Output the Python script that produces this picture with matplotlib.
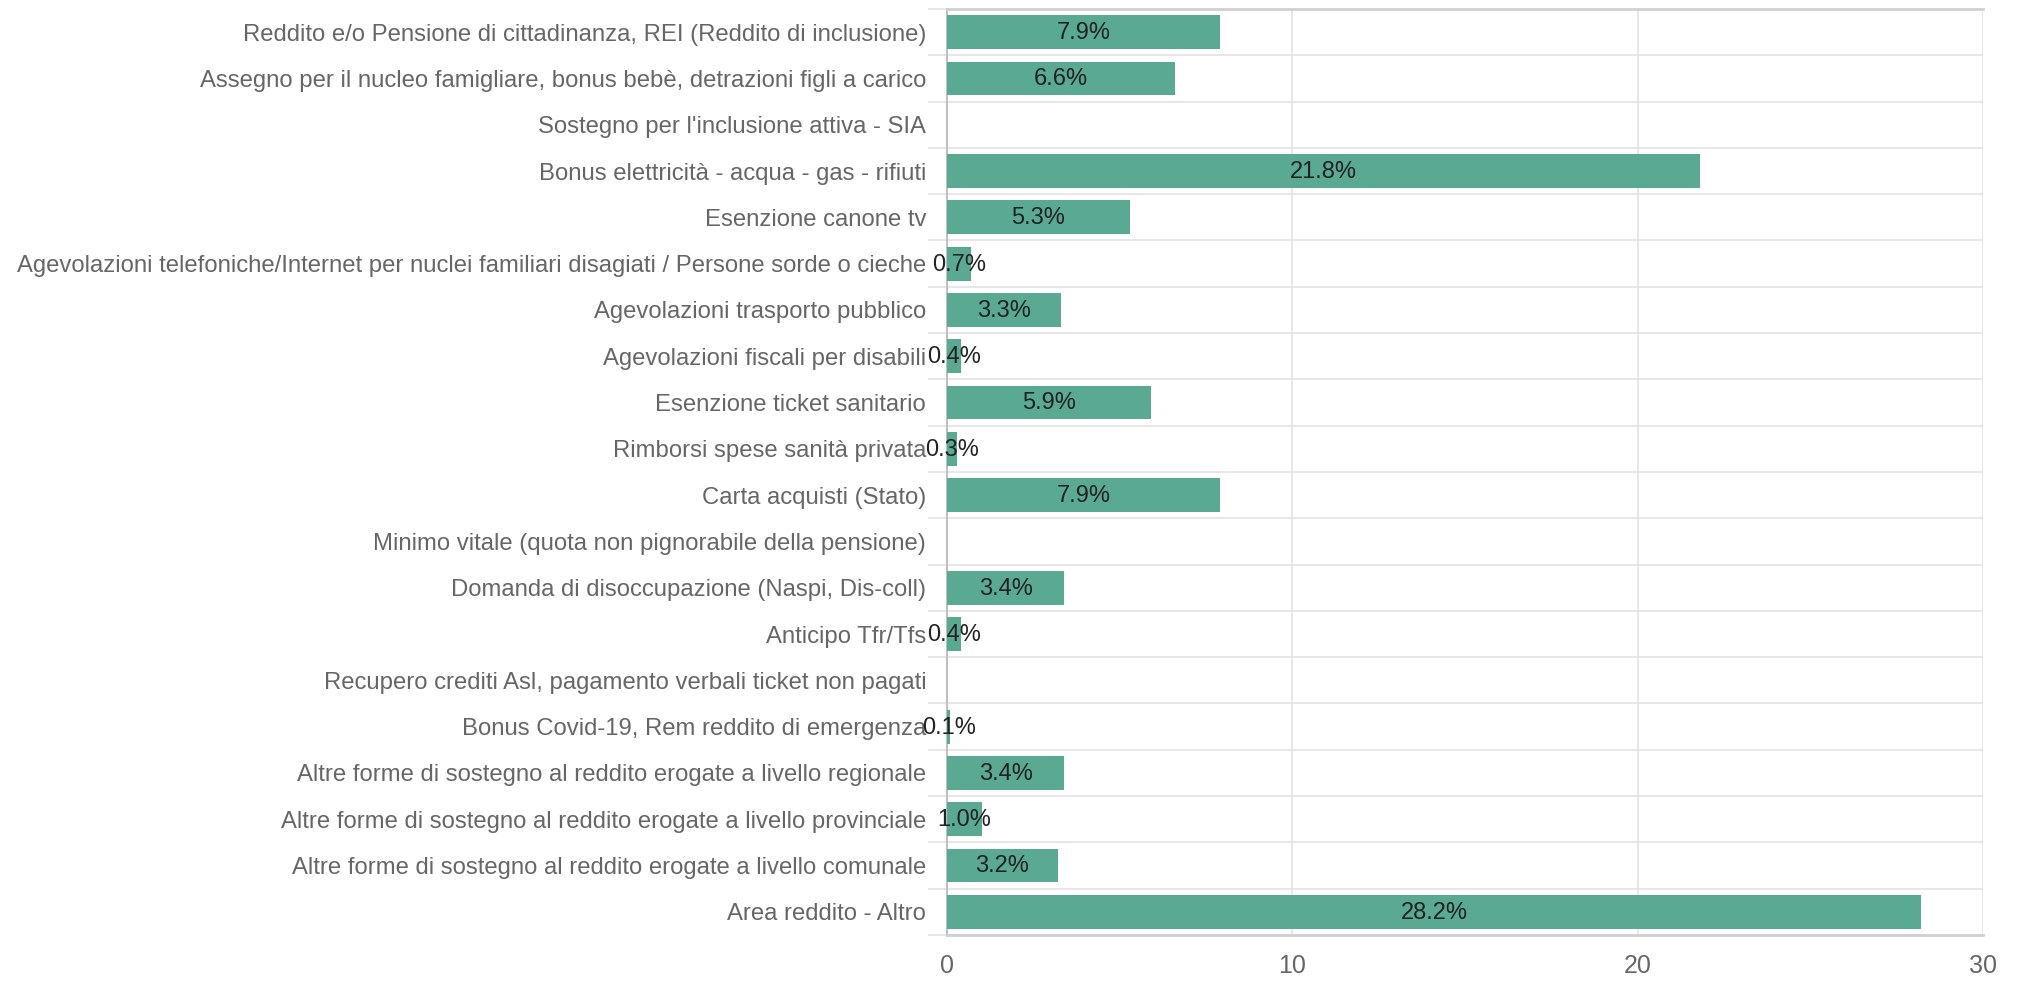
import numpy as np
import matplotlib.pyplot as plt
from matplotlib.ticker import FixedLocator

plt.rcParams['font.family'] = ['Liberation Sans', 'DejaVu Sans']

categorie = [
    "Reddito e/o Pensione di cittadinanza, REI (Reddito di inclusione)",
    "Assegno per il nucleo famigliare, bonus bebè, detrazioni figli a carico",
    "Sostegno per l'inclusione attiva - SIA",
    "Bonus elettricità - acqua - gas - rifiuti",
    "Esenzione canone tv",
    "Agevolazioni telefoniche/Internet per nuclei familiari disagiati / Persone sorde o cieche",
    "Agevolazioni trasporto pubblico",
    "Agevolazioni fiscali per disabili",
    "Esenzione ticket sanitario",
    "Rimborsi spese sanità privata",
    "Carta acquisti (Stato)",
    "Minimo vitale (quota non pignorabile della pensione)",
    "Domanda di disoccupazione (Naspi, Dis-coll)",
    "Anticipo Tfr/Tfs",
    "Recupero crediti Asl, pagamento verbali ticket non pagati",
    "Bonus Covid-19, Rem reddito di emergenza",
    "Altre forme di sostegno al reddito erogate a livello regionale",
    "Altre forme di sostegno al reddito erogate a livello provinciale",
    "Altre forme di sostegno al reddito erogate a livello comunale",
    "Area reddito - Altro",
]
percentuali = [7.9, 6.6, 0, 21.8, 5.3, 0.7, 3.3, 0.4, 5.9, 0.3,
               7.9, 0, 3.4, 0.4, 0, 0.1, 3.4, 1.0, 3.2, 28.2]
x_ticks = [0, 10, 20, 30]

fig = plt.figure(figsize=(20.17, 9.81), dpi=100)
ax = fig.add_axes([947 / 2017, 1 - 935 / 981, (1983 - 947) / 2017, (935 - 9) / 981])

n = len(categorie)
y = np.arange(n)
ax.barh(y, percentuali, height=0.73, color='#5aaa93', zorder=3)

# etichette percentuali al centro della barra (niente per i valori nulli)
for yi, v in zip(y, percentuali):
    if v > 0:
        ax.text(v / 2, yi + 0.02, f"{v:.1f}%", ha='center', va='center',
                fontsize=17, color='#222222', zorder=4)

ax.set_ylim(n - 0.5, -0.5)
ax.set_xlim(0, 30)
ax.set_yticks(y)
ax.set_yticklabels(categorie)
ax.yaxis.set_minor_locator(FixedLocator(np.arange(n + 1) - 0.5))
ax.tick_params(axis='y', which='major', length=0, pad=15, labelsize=17.2, labelcolor='#666666')
ax.tick_params(axis='y', which='minor', length=14, color='#e3e3e3', width=1.2)
ax.set_xticks(x_ticks)
ax.tick_params(axis='x', length=0, pad=14, labelsize=18, labelcolor='#666666')

ax.grid(axis='y', which='minor', color='#e3e3e3', linewidth=1.2, zorder=0)
ax.grid(axis='x', which='major', color='#e3e3e3', linewidth=1.2, zorder=0)

for lato in ['top', 'bottom']:
    ax.spines[lato].set_color('#d0d0d0')
    ax.spines[lato].set_linewidth(2)
ax.spines['left'].set_color('#c0c0c0')
ax.spines['left'].set_linewidth(1.5)
ax.spines['right'].set_visible(False)

fig.savefig('out.png', dpi=100, facecolor='white')
